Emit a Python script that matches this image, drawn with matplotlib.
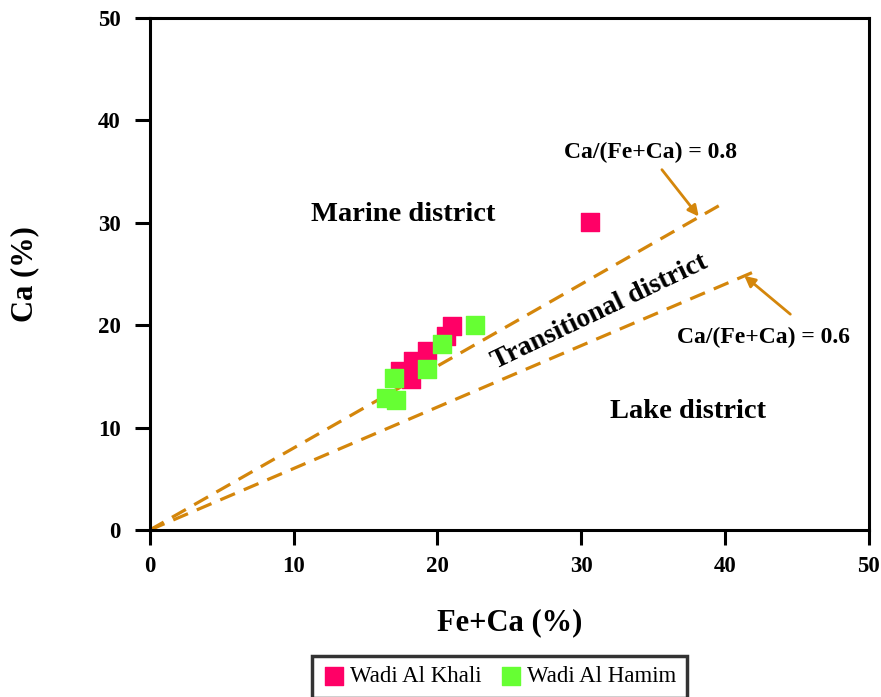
import matplotlib
matplotlib.use("Agg")
import matplotlib.pyplot as plt
import numpy as np

khali_x = [21.0, 20.6, 19.3, 18.3, 17.4, 18.2, 30.6]
khali_y = [19.9, 18.9, 17.5, 16.5, 15.5, 14.7, 30.1]
hamim_x = [22.6, 20.3, 19.3, 17.0, 16.4, 17.1]
hamim_y = [20.0, 18.2, 15.7, 14.8, 12.9, 12.7]

ratio_08_end = 39.6
ratio_06_end = 42.2

plt.rcParams['font.family'] = ['Liberation Serif', 'DejaVu Serif']

fig = plt.figure(figsize=(8.81, 6.97), dpi=100)
ax = fig.add_axes([0.170, 0.2396, 0.816, 0.7346])

orange = '#D4860B'
for end, r in [(ratio_08_end, 0.8), (ratio_06_end, 0.6)]:
    xs = np.array([0, end])
    ax.plot(xs, xs * r, color=orange, lw=2.3, ls=(0, (5, 3)), zorder=2)

ax.scatter(khali_x, khali_y, marker='s', s=160, color='#FF0066', zorder=3, label='Wadi Al Khali')
ax.scatter(hamim_x, hamim_y, marker='s', s=160, color='#66FF33', zorder=3, label='Wadi Al Hamim')

ax.set_xlim(0, 50)
ax.set_ylim(0, 50)
ax.set_xticks([0, 10, 20, 30, 40, 50])
ax.set_yticks([0, 10, 20, 30, 40, 50])
for s in ax.spines.values():
    s.set_linewidth(2.2)
ax.tick_params(direction='out', length=11, width=2.2, labelsize=16.5)
ax.tick_params(axis='y', pad=10)
ax.tick_params(axis='x', pad=8)
for lab in ax.get_xticklabels() + ax.get_yticklabels():
    lab.set_fontweight('bold')

ax.set_xlabel('Fe+Ca (%)', fontsize=22, fontweight='bold', labelpad=22)
ax.set_ylabel('Ca (%)', fontsize=22, fontweight='bold', labelpad=42)

ax.text(17.6, 30.8, 'Marine district', fontsize=20.5, fontweight='bold', ha='center', va='center')
ax.text(37.4, 11.6, 'Lake district', fontsize=20.5, fontweight='bold', ha='center', va='center')
ax.text(31.3, 21.3, 'Transitional district', fontsize=20, fontweight='bold', ha='center', va='center',
        rotation=25.6, rotation_mode='anchor')

ax.annotate('', xy=(38.3, 30.4), xytext=(35.5, 35.4),
            arrowprops=dict(arrowstyle='-|>', color=orange, lw=2, mutation_scale=16))
ax.text(34.8, 36.9, 'Ca/(Fe+Ca) = 0.8', fontsize=17, fontweight='bold', ha='center', va='center')
ax.annotate('', xy=(41.2, 25.0), xytext=(44.7, 20.9),
            arrowprops=dict(arrowstyle='-|>', color=orange, lw=2, mutation_scale=16))
ax.text(42.7, 18.8, 'Ca/(Fe+Ca) = 0.6', fontsize=17, fontweight='bold', ha='center', va='center')

leg = fig.legend(loc='center', bbox_to_anchor=(0.567, 0.029), ncol=2, fontsize=16.5,
                 frameon=True, fancybox=False, edgecolor='black', handletextpad=0.2,
                 columnspacing=0.8, borderpad=0.45, markerscale=1.0, handlelength=1.0)
leg.get_frame().set_linewidth(2.5)

fig.savefig('out.png', dpi=100)
